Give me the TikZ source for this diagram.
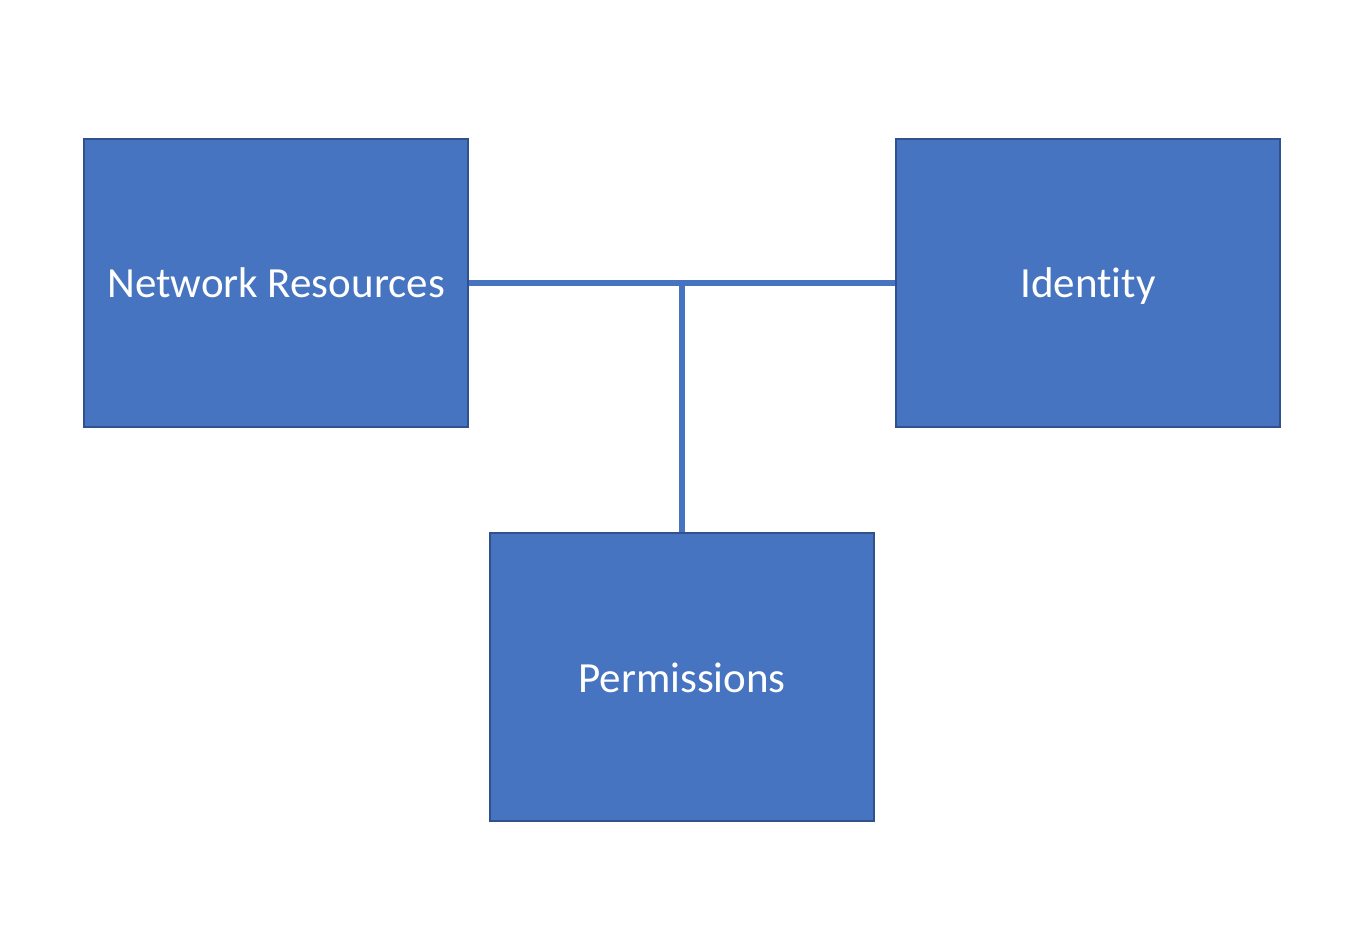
\documentclass[tikz,border=0pt]{standalone}
\usepackage{fontspec}
\setmainfont{Carlito}[Ligatures=NoCommon]
\definecolor{boxblue}{HTML}{4674C1}
\definecolor{boxedge}{HTML}{2F528F}
\tikzstyle{block}=[rectangle,fill=boxblue,draw=boxedge,line width=1.5pt,minimum width=384pt,minimum height=288pt,inner sep=0pt,text=white,text height=32pt,text depth=2pt,font=\fontsize{43}{50}\selectfont]
\tikzstyle{link}=[draw,boxblue,line width=5.5pt,-]

\begin{document}
\begin{tikzpicture}[x=1pt,y=1pt]
    \useasboundingbox (0,0) rectangle (1364,932);
    \foreach \pos/\name/\text in {{(276,649)/netres/Network Resources},
                                  {(1088,649)/ident/Identity},
                                  {(682,255)/perms/Permissions}}
        \node[block] (\name) at \pos {\text};

    \coordinate (junc) at (netres.east -| perms.north);
    \path[link] (netres.east) -- (ident.west);
    \path[link] (perms.north) -- (junc);
\end{tikzpicture}
\end{document}
